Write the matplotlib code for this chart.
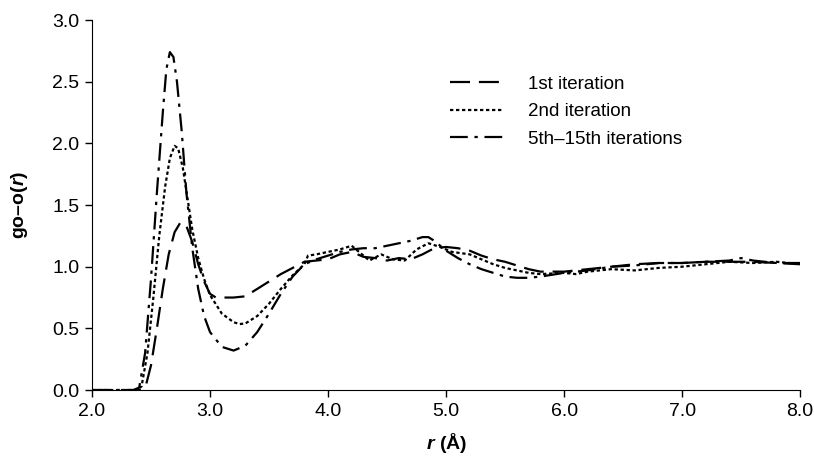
import matplotlib
matplotlib.use("Agg")
import matplotlib.pyplot as plt

plt.rcParams['font.family'] = ['Liberation Sans', 'DejaVu Sans']
plt.rcParams['mathtext.fontset'] = 'custom'
plt.rcParams['mathtext.rm'] = 'Liberation Sans:bold'
plt.rcParams['mathtext.bf'] = 'Liberation Sans:bold'
plt.rcParams['mathtext.it'] = 'Liberation Sans:italic:bold'

# 1st iteration
r1 = [2.0, 2.42, 2.46, 2.50, 2.55, 2.60, 2.65, 2.70, 2.75, 2.80, 2.85, 2.90, 2.95, 3.00, 3.05,
      3.20, 3.30, 3.40, 3.50, 3.60, 3.70, 3.80, 3.90, 4.00, 4.10, 4.20, 4.30, 4.40, 4.50, 4.60,
      4.70, 4.80, 4.90, 5.00, 5.10, 5.20, 5.30, 5.40, 5.50, 5.60, 5.70, 5.80, 6.00, 6.20, 6.40,
      6.60, 6.80, 7.00, 7.20, 7.40, 7.60, 7.80, 8.00]
g1 = [0.0, 0.0, 0.05, 0.20, 0.50, 0.82, 1.10, 1.28, 1.36, 1.33, 1.20, 1.02, 0.88, 0.78, 0.75,
      0.75, 0.76, 0.82, 0.88, 0.94, 0.99, 1.04, 1.05, 1.06, 1.10, 1.12, 1.08, 1.07, 1.05, 1.07,
      1.06, 1.10, 1.15, 1.16, 1.15, 1.13, 1.09, 1.06, 1.04, 1.01, 0.98, 0.96, 0.96, 0.98, 1.00,
      1.02, 1.03, 1.03, 1.04, 1.04, 1.04, 1.03, 1.03]

# 2nd iteration
r2 = [2.0, 2.38, 2.42, 2.47, 2.52, 2.57, 2.62, 2.66, 2.70, 2.73, 2.77, 2.81, 2.85, 2.90, 2.95,
      3.00, 3.10, 3.20, 3.25, 3.30, 3.40, 3.50, 3.60, 3.70, 3.80, 3.83, 3.90, 4.00, 4.10, 4.20,
      4.30, 4.35, 4.45, 4.55, 4.65, 4.75, 4.85, 4.95, 5.05, 5.20, 5.30, 5.40, 5.50, 5.60, 5.70,
      5.80, 6.00, 6.10, 6.20, 6.40, 6.60, 6.80, 7.00, 7.20, 7.40, 7.60, 7.80, 8.00]
g2 = [0.0, 0.0, 0.03, 0.30, 0.75, 1.25, 1.65, 1.88, 1.98, 1.96, 1.80, 1.55, 1.30, 1.07, 0.90,
      0.77, 0.62, 0.55, 0.535, 0.54, 0.60, 0.70, 0.82, 0.93, 1.02, 1.09, 1.10, 1.12, 1.14, 1.17,
      1.09, 1.05, 1.10, 1.06, 1.05, 1.14, 1.19, 1.16, 1.12, 1.10, 1.06, 1.02, 0.99, 0.97, 0.95,
      0.94, 0.95, 0.94, 0.96, 0.98, 0.97, 0.99, 1.00, 1.02, 1.04, 1.03, 1.04, 1.02]

# 5th-15th iterations
r5 = [2.0, 2.35, 2.40, 2.45, 2.50, 2.55, 2.60, 2.63, 2.66, 2.69, 2.72, 2.76, 2.80, 2.85, 2.90,
      2.95, 3.00, 3.10, 3.20, 3.30, 3.40, 3.50, 3.60, 3.70, 3.80, 3.90, 4.00, 4.10, 4.20, 4.30,
      4.40, 4.50, 4.60, 4.70, 4.80, 4.85, 4.90, 5.00, 5.10, 5.20, 5.30, 5.40, 5.50, 5.60, 5.70,
      5.80, 6.00, 6.20, 6.40, 6.60, 6.80, 7.00, 7.20, 7.40, 7.50, 7.60, 7.80, 8.00]
g5 = [0.0, 0.0, 0.02, 0.30, 0.90, 1.60, 2.25, 2.60, 2.74, 2.70, 2.50, 2.10, 1.60, 1.15, 0.82,
      0.60, 0.47, 0.35, 0.32, 0.36, 0.47, 0.62, 0.78, 0.92, 1.02, 1.06, 1.09, 1.12, 1.14, 1.15,
      1.15, 1.17, 1.19, 1.21, 1.24, 1.24, 1.21, 1.13, 1.07, 1.02, 0.98, 0.95, 0.92, 0.91, 0.91,
      0.92, 0.95, 0.97, 1.00, 1.01, 1.03, 1.03, 1.04, 1.05, 1.07, 1.05, 1.03, 1.02]

x_ticks = [2.0, 3.0, 4.0, 5.0, 6.0, 7.0, 8.0]
y_ticks = [0.0, 0.5, 1.0, 1.5, 2.0, 2.5, 3.0]

fig = plt.figure(figsize=(8.14, 4.66), dpi=100)
ax = fig.add_axes([0.113, 0.163, 0.870, 0.794])

ax.plot(r1, g1, color='black', lw=1.6, dashes=(9, 4), label="1st iteration")
ax.plot(r2, g2, color='black', lw=1.6, dashes=(1.5, 1.2), label="2nd iteration")
ax.plot(r5, g5, color='black', lw=1.6, dashes=(8, 3, 1.5, 3), label="5th\u201315th iterations")

ax.set_xlim(2.0, 8.0)
ax.set_ylim(0.0, 3.0)
ax.set_xticks(x_ticks)
ax.set_yticks(y_ticks)
ax.set_xticklabels([f"{v:.1f}" for v in x_ticks])
ax.set_yticklabels([f"{v:.1f}" for v in y_ticks])
ax.tick_params(direction='out', length=5, width=1, labelsize=14, pad=4)
ax.spines['top'].set_visible(False)
ax.spines['right'].set_visible(False)

ax.set_xlabel(r"$\mathit{r}$ (Å)", fontsize=14, fontweight='bold', labelpad=8)
ax.set_ylabel("go\u2013o(" + r"$\mathit{r}$" + ")", fontsize=14, fontweight='bold', labelpad=16)

ax.legend(loc='upper left', bbox_to_anchor=(0.505, 0.85), frameon=False, borderpad=0,
          borderaxespad=0, fontsize=13.5, handlelength=2.9, handletextpad=1.3,
          labelspacing=0.55)

fig.savefig("out.png", dpi=100)
